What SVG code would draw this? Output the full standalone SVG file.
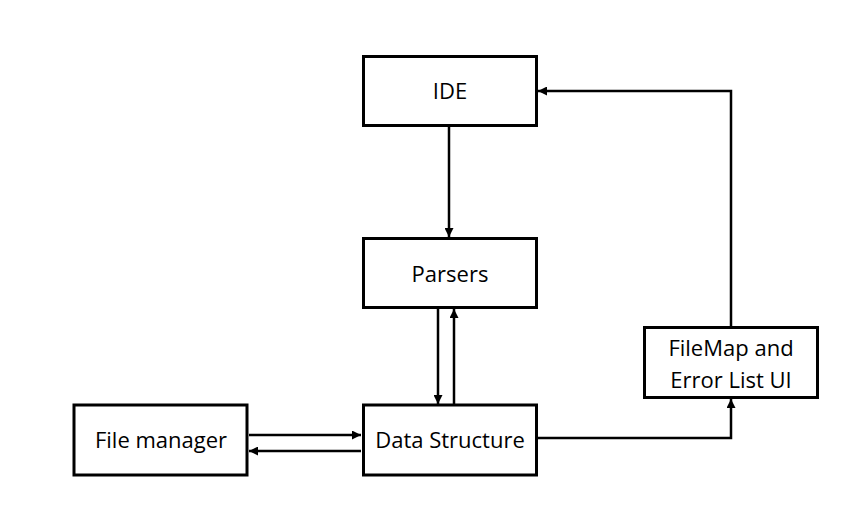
<svg xmlns="http://www.w3.org/2000/svg" width="854" height="530" viewBox="0 0 854 530">
<style>
.box{fill:#fff;stroke:#000;stroke-width:3}
.lbl{font-family:"Open Sans","Liberation Sans",sans-serif;font-size:22px;fill:#000;text-anchor:middle}
.con{fill:none;stroke:#000;stroke-width:2.5}
</style>
<defs>
<marker id="ah" viewBox="0 0 10 10" refX="10" refY="5" markerWidth="3.6" markerHeight="3.6" orient="auto" markerUnits="strokeWidth">
<path d="M0,0 L10,5 L0,10 z" fill="#000"/>
</marker>
</defs>
<rect width="854" height="530" fill="#fff"/>
<g id="connectors">
<path class="con" d="M449,127 V237" marker-end="url(#ah)"/>
<path class="con" d="M438,309 V404" marker-end="url(#ah)"/>
<path class="con" d="M454,404 V309" marker-end="url(#ah)"/>
<path class="con" d="M249,435 H361" marker-end="url(#ah)"/>
<path class="con" d="M361,451 H249" marker-end="url(#ah)"/>
<path class="con" d="M538,438 H731 V399" marker-end="url(#ah)"/>
<path class="con" d="M731,326 V91 H538" marker-end="url(#ah)"/>
</g>
<g id="ide">
<rect class="box" x="363.5" y="56.5" width="173" height="69"/>
<text class="lbl" x="450" y="99">IDE</text>
</g>
<g id="parsers">
<rect class="box" x="363.5" y="238.5" width="173" height="69"/>
<text class="lbl" x="450" y="282">Parsers</text>
</g>
<g id="data-structure">
<rect class="box" x="363.5" y="405" width="173" height="70"/>
<text class="lbl" x="450" y="448">Data Structure</text>
</g>
<g id="file-manager">
<rect class="box" x="74" y="405" width="173" height="70"/>
<text class="lbl" x="161" y="448">File manager</text>
</g>
<g id="filemap">
<rect class="box" x="644.5" y="327.5" width="173" height="70"/>
<text class="lbl" x="731" y="356">FileMap and</text>
<text class="lbl" x="731" y="388">Error List UI</text>
</g>
</svg>
